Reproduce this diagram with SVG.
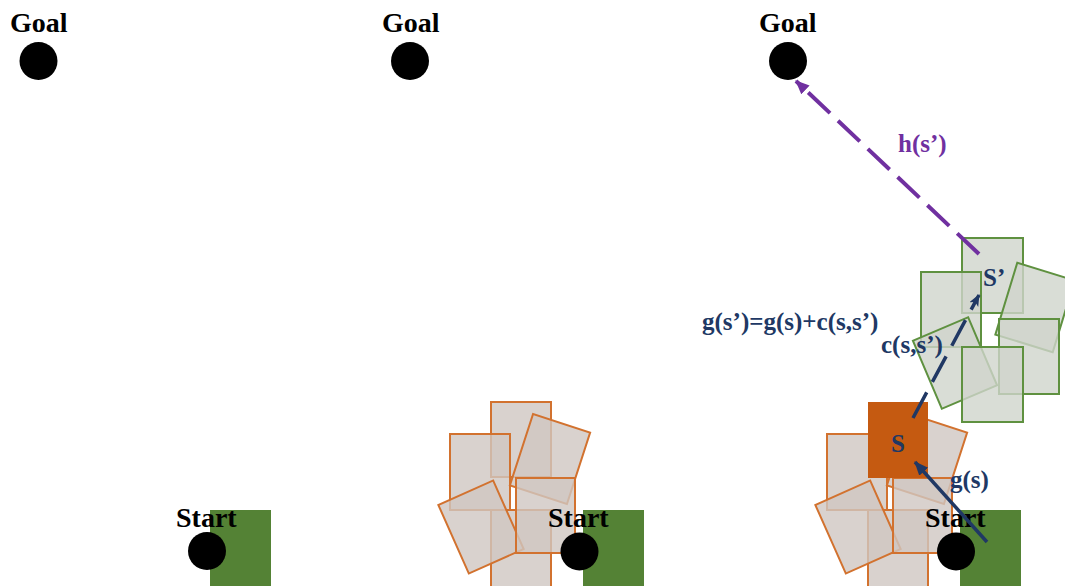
<svg xmlns="http://www.w3.org/2000/svg" width="1065" height="586" viewBox="0 0 1065 586">
  <style>
    .lbl { font-family: "Liberation Serif", "Times New Roman", serif; font-weight: bold; }
    .big { font-size: 28px; fill: #000; }
    .nv { font-size: 25px; fill: #203864; }
    .pu { font-size: 25px; fill: #7030a0; }
    .dot { fill: #000; }
    .base { fill: #548235; }
    .pose { fill: #cfc7c2; fill-opacity: 0.8; stroke: #d2722f; stroke-width: 2; }
    .succ { fill: #cfd5cc; fill-opacity: 0.8; stroke: #5f9140; stroke-width: 2; }
  </style>
  <defs>
    <marker id="ahNavy" markerUnits="userSpaceOnUse" markerWidth="16" markerHeight="14" refX="13" refY="6" orient="auto">
      <path d="M0,0 L14,6 L0,12 Z" fill="#203864"/>
    </marker>
    <marker id="ahNavySm" markerUnits="userSpaceOnUse" markerWidth="14" markerHeight="12" refX="11" refY="5" orient="auto">
      <path d="M0,0 L12,5 L0,10 L3,5 Z" fill="#203864"/>
    </marker>
    <marker id="ahPurple" markerUnits="userSpaceOnUse" markerWidth="16" markerHeight="14" refX="13" refY="6" orient="auto">
      <path d="M0,0 L14,6 L0,12 Z" fill="#7030a0"/>
    </marker>
  </defs>

  <rect width="1065" height="586" fill="#fff"/>

  <!-- Panel 1 -->
  <g id="goal-1">
    <text class="lbl big" x="10" y="32">Goal</text>
    <circle class="dot" cx="38.5" cy="61" r="19"/>
  </g>
  <g id="start-1">
    <rect class="base" x="210" y="510" width="61" height="80"/>
    <circle class="dot" cx="207" cy="551" r="19"/>
    <text class="lbl big" x="176" y="527">Start</text>
  </g>

  <!-- Panel 2 -->
  <g id="goal-2">
    <text class="lbl big" x="382" y="32">Goal</text>
    <circle class="dot" cx="410" cy="61" r="19"/>
  </g>
  <g id="expansion-2">
    <rect class="pose" x="491" y="402" width="60" height="75"/>
    <rect class="pose" x="491" y="510" width="60" height="80"/>
    <rect class="pose" x="450" y="434" width="60" height="76"/>
    <rect class="pose" x="-30" y="-37.5" width="60" height="75" transform="translate(550 459) rotate(18)"/>
    <rect class="pose" x="-30" y="-37.5" width="60" height="75" transform="translate(481 527) rotate(-24)"/>
    <rect class="pose" x="516" y="478" width="59" height="75"/>
  </g>
  <g id="start-2">
    <rect class="base" x="583" y="510" width="61" height="80"/>
    <circle class="dot" cx="579.5" cy="551.5" r="19"/>
    <text class="lbl big" x="548" y="527">Start</text>
  </g>

  <!-- Panel 3 -->
  <g id="goal-3">
    <text class="lbl big" x="759" y="32">Goal</text>
    <circle class="dot" cx="788" cy="61" r="19"/>
  </g>
  <g id="expansion-3">
    <rect class="pose" x="868" y="510" width="60" height="80"/>
    <rect class="pose" x="827" y="434" width="60" height="76"/>
    <rect class="pose" x="-30" y="-37.5" width="60" height="75" transform="translate(927 459) rotate(18)"/>
    <rect class="pose" x="-30" y="-37.5" width="60" height="75" transform="translate(858 527) rotate(-24)"/>
    <rect class="pose" x="893" y="478" width="59" height="75"/>
  </g>
  <g id="state-s">
    <rect x="868" y="402" width="60" height="76" fill="#c55a11"/>
    <text class="lbl nv" x="891" y="452" font-size="24">S</text>
  </g>
  <g id="successors">
    <rect class="succ" x="962" y="238" width="61" height="75"/>
    <rect class="succ" x="-30" y="-37.5" width="60" height="75" transform="translate(1035 307.5) rotate(17)"/>
    <rect class="succ" x="999" y="319" width="60" height="75"/>
    <rect class="succ" x="921" y="272" width="60" height="75"/>
    <rect class="succ" x="-30" y="-37" width="60" height="74" transform="translate(955 363) rotate(-23)"/>
    <rect class="succ" x="962" y="347" width="61" height="75"/>
  </g>
  <g id="start-3">
    <rect class="base" x="960" y="510" width="61" height="80"/>
    <circle class="dot" cx="956" cy="551.5" r="19"/>
    <text class="lbl big" x="925" y="527">Start</text>
  </g>

  <!-- Connectors -->
  <g id="connectors" fill="none">
    <line x1="987" y1="542" x2="915" y2="462" stroke="#203864" stroke-width="3.5" marker-end="url(#ahNavy)"/>
    <line x1="913" y1="418" x2="979" y2="295" stroke="#203864" stroke-width="3.5" stroke-dasharray="29 12" marker-end="url(#ahNavySm)"/>
    <line x1="979" y1="254" x2="796" y2="81" stroke="#7030a0" stroke-width="4" stroke-dasharray="30 11" marker-end="url(#ahPurple)"/>
  </g>

  <!-- Labels -->
  <g id="labels">
    <text class="lbl nv" x="950" y="488">g(s)</text>
    <text class="lbl nv" x="881" y="353">c(s,s’)</text>
    <text class="lbl nv" x="983" y="286" font-size="24">S’</text>
    <text class="lbl nv" x="702" y="330">g(s’)=g(s)+c(s,s’)</text>
    <text class="lbl pu" x="898" y="152">h(s’)</text>
  </g>
</svg>
